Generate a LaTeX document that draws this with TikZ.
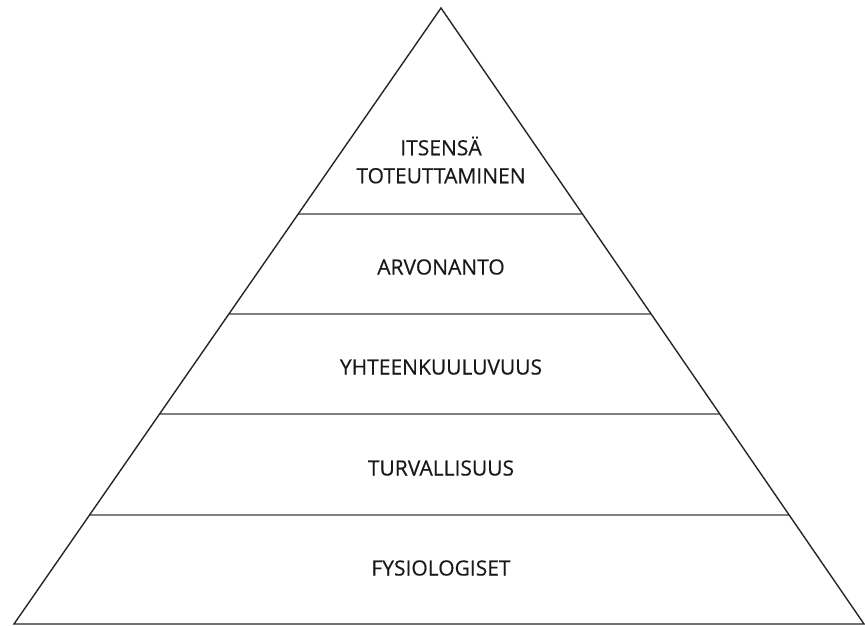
\documentclass[tikz,border=0pt]{standalone}
\usepackage{fontspec}
\newfontfamily\pyrfont[FakeBold=0.4]{Open Sans}
\usetikzlibrary{calc}

\begin{document}
\begin{tikzpicture}[x=1pt, y=-1pt,
	edge/.style = {line width=1.4pt, black!85, line join=miter},
	level/.style = {line width=1.2pt, black!50},
	label/.style = {font=\pyrfont\fontsize{21}{28}\selectfont, text=black!90, align=center}]
	\useasboundingbox (0,0) rectangle (865,626);
	\coordinate (apex) at (441,8);
	\coordinate (bl) at (14,624);
	\coordinate (br) at (864,624);
	\foreach \t [count=\i] in {0.3344, 0.4968, 0.6591, 0.8231} {
		\coordinate (l\i) at ($(apex)!\t!(bl)$);
		\coordinate (r\i) at ($(apex)!\t!(br)$);
		\draw[level] (l\i) -- (r\i);
	}
	\draw[edge] (apex) -- (bl) -- (br) -- cycle;
	\node[label] (itsensa) at (441,160) {ITSENSÄ\\TOTEUTTAMINEN};
	\node[label] (arvonanto) at (441,267) {ARVONANTO};
	\node[label] (yhteen) at (441,367) {YHTEENKUULUVUUS};
	\node[label] (turva) at (441,468) {TURVALLISUUS};
	\node[label] (fysio) at (441,568) {FYSIOLOGISET};
	\end{tikzpicture}
\end{document}
